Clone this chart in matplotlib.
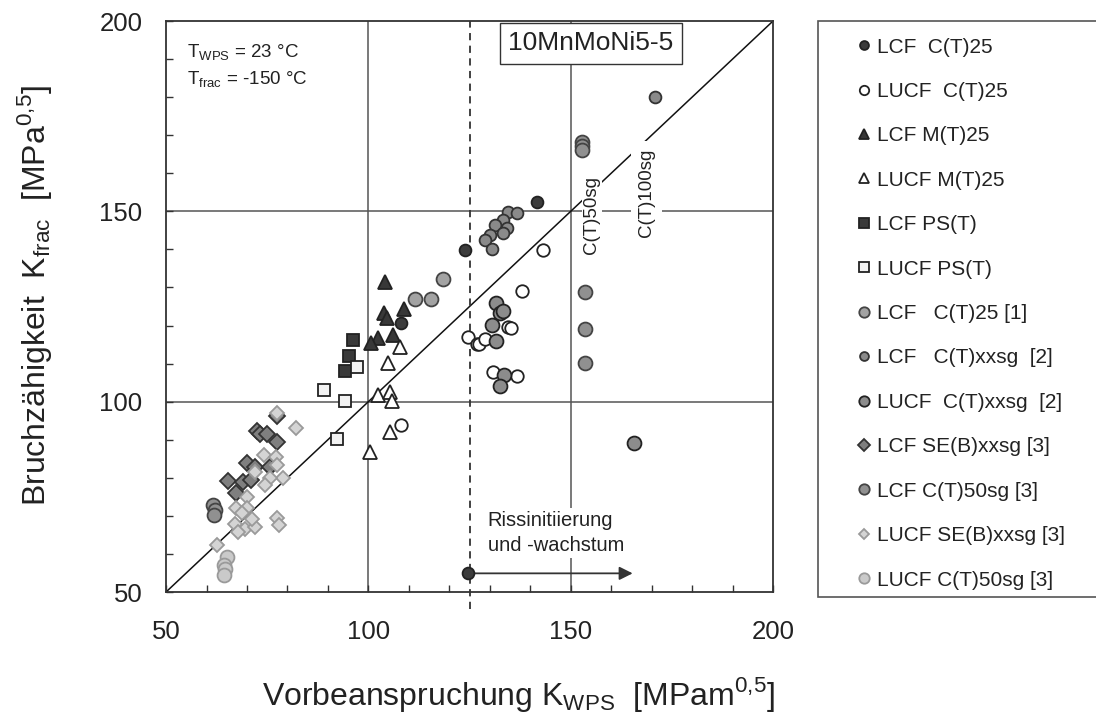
import matplotlib
matplotlib.use('Agg')
import matplotlib.pyplot as plt
from matplotlib.patches import Rectangle

plt.rcParams['font.family'] = ['Liberation Sans', 'DejaVu Sans']
plt.rcParams['mathtext.fontset'] = 'custom'
plt.rcParams['mathtext.rm'] = 'Liberation Sans'

# --- data: (K_WPS, K_frac) per series ---
lcf_ct25_x = [123.9, 141.6, 108.0, 124.7]
lcf_ct25_y = [139.8, 152.5, 120.7, 54.9]

lucf_ct25_x = [143.2, 124.5, 126.8, 108.0, 137.9, 134.6, 135.2, 127.4, 128.8, 130.9, 136.7]
lucf_ct25_y = [139.8, 116.9, 115.1, 93.9, 129.1, 119.5, 119.3, 115.1, 116.4, 107.9, 106.7]

lcf_mt25_x = [104.1, 103.9, 104.5, 108.8, 102.5, 100.6, 106.2]
lcf_mt25_y = [131.5, 123.2, 121.9, 124.3, 116.6, 115.3, 117.5]

lucf_mt25_x = [107.7, 104.9, 102.5, 105.3, 105.9, 105.3, 100.4]
lucf_mt25_y = [114.4, 110.1, 101.7, 102.6, 100.3, 92.1, 86.9]

lcf_pst_x = [96.3, 95.2, 94.3]
lcf_pst_y = [116.2, 112.0, 108.1]

lucf_pst_x = [97.3, 89.1, 94.3, 92.2]
lucf_pst_y = [109.2, 103.1, 100.2, 90.2]

lcf_ct25_1_x = [118.5, 111.5, 115.4]
lcf_ct25_1_y = [132.1, 127.0, 127.0]

lcf_ctxx_2_x = [134.5, 136.7, 133.3, 131.3, 134.2, 130.1, 128.8, 133.3, 130.5, 170.8]
lcf_ctxx_2_y = [149.9, 149.6, 147.7, 146.4, 145.5, 143.8, 142.5, 144.2, 140.0, 180.1]

lucf_ctxx_2_x = [131.5, 132.5, 133.3, 130.5, 131.5, 133.5, 132.5, 165.7]
lucf_ctxx_2_y = [126.0, 123.4, 123.9, 120.1, 116.0, 107.0, 104.1, 89.2]

lcf_seb_3_x = [77.4, 72.4, 73.2, 75.0, 77.5, 70.1, 72.0, 75.7, 65.4, 69.1, 70.9, 67.3]
lcf_seb_3_y = [96.2, 92.3, 91.5, 91.4, 89.5, 83.8, 82.9, 82.8, 79.2, 79.0, 79.4, 75.9]

lcf_ct50_3_x = [152.7, 152.7, 152.7, 153.5, 153.5, 153.5, 61.7, 62.1, 61.9]
lcf_ct50_3_y = [168.3, 167.2, 166.2, 128.9, 119.1, 110.1, 72.9, 71.5, 70.2]

lucf_seb_3_x = [77.5, 82.1, 74.2, 77.2, 77.5, 79.0, 75.7, 74.5, 72.0, 69.9, 67.3, 70.1, 68.7,
                67.1, 69.5, 72.0, 67.9, 77.5, 78.0, 62.5, 71.2]
lucf_seb_3_y = [96.9, 93.0, 86.0, 85.4, 83.4, 79.9, 79.9, 78.1, 81.6, 75.0, 72.0, 72.0, 70.7,
                67.9, 66.5, 67.2, 65.8, 69.4, 67.6, 62.3, 69.1]

lucf_ct50_3_x = [65.0, 64.2, 64.5, 64.2]
lucf_ct50_3_y = [59.3, 57.1, 56.0, 54.5]

labels = ['LCF  C(T)25', 'LUCF  C(T)25', 'LCF M(T)25', 'LUCF M(T)25', 'LCF PS(T)', 'LUCF PS(T)',
          'LCF   C(T)25 [1]', 'LCF   C(T)xxsg  [2]', 'LUCF  C(T)xxsg  [2]', 'LCF SE(B)xxsg [3]',
          'LCF C(T)50sg [3]', 'LUCF SE(B)xxsg [3]', 'LUCF C(T)50sg [3]']

# series: x, y, marker, face, edge, size
series = [
    (lcf_ct25_x, lcf_ct25_y, 'o', '#3c3c3c', '#222222', 8.5),
    (lucf_ct25_x, lucf_ct25_y, 'o', 'white', '#222222', 9),
    (lcf_mt25_x, lcf_mt25_y, '^', '#383838', '#222222', 10),
    (lucf_mt25_x, lucf_mt25_y, '^', 'white', '#222222', 10),
    (lcf_pst_x, lcf_pst_y, 's', '#3a3a3a', '#222222', 9),
    (lucf_pst_x, lucf_pst_y, 's', '#f2f2f2', '#222222', 9),
    (lcf_ct25_1_x, lcf_ct25_1_y, 'o', '#a3a3a3', '#444444', 10),
    (lcf_ctxx_2_x, lcf_ctxx_2_y, 'o', '#8a8a8a', '#333333', 8.5),
    (lucf_ctxx_2_x, lucf_ctxx_2_y, 'o', '#8c8c8c', '#222222', 10),
    (lcf_seb_3_x, lcf_seb_3_y, 'D', '#7f7f7f', '#333333', 8),
    (lcf_ct50_3_x, lcf_ct50_3_y, 'o', '#909090', '#444444', 10),
    (lucf_seb_3_x, lucf_seb_3_y, 'D', '#d4d4d4', '#9a9a9a', 7),
    (lucf_ct50_3_x, lucf_ct50_3_y, 'o', '#cacaca', '#9a9a9a', 10),
]

fig = plt.figure(figsize=(10.96, 7.13), dpi=100)
ax = fig.add_axes([0.1515, 0.1697, 0.5538, 0.8008])

ax.set_xlim(50, 200)
ax.set_ylim(50, 200)
ax.set_xticks([50, 100, 150, 200])
ax.set_yticks([50, 100, 150, 200])
ax.set_xticks(range(50, 201, 10), minor=True)
ax.set_yticks(range(50, 201, 10), minor=True)
ax.tick_params(which='both', direction='in', length=5, width=1, colors='#333333',
               labelsize=18.5, labelcolor='#222222')
ax.tick_params(axis='x', which='major', pad=20)
ax.tick_params(axis='y', which='major', pad=17)
for s in ax.spines.values():
    s.set_linewidth(1.3)
    s.set_color('#333333')

# grid lines
for v in [100, 150]:
    ax.axvline(v, color='#555555', lw=1.1, zorder=1)
    ax.axhline(v, color='#555555', lw=1.1, zorder=1)

# diagonal K_frac = K_WPS
ax.plot([50, 200], [50, 200], color='#111111', lw=1.1, zorder=2)
# dashed line at K_WPS = 125
ax.plot([125, 125], [45.5, 200], color='#333333', lw=1.3, ls=(0, (4, 3)), clip_on=False, zorder=2)

for (x, y, m, fc, ec, ms), lab in zip(series, labels):
    ax.plot(x, y, ls='none', marker=m, mfc=fc, mec=ec, mew=1.3, ms=ms, label=lab, zorder=4)

# arrow for crack initiation and growth
ax.annotate('', xy=(166, 54.9), xytext=(125.5, 54.9),
            arrowprops=dict(arrowstyle='-|>', color='#333333', lw=1.3, mutation_scale=20), zorder=3)
ax.text(129.5, 65.5, 'Rissinitiierung\nund -wachstum', fontsize=14.5, color='#222222',
        ha='left', va='center', linespacing=1.45,
        bbox=dict(facecolor='white', edgecolor='none', pad=2), zorder=3)

ax.text(155.2, 149.0, 'C(T)50sg', rotation=90, fontsize=13.5, color='#222222', ha='center', va='center',
        bbox=dict(facecolor='white', edgecolor='none', pad=1), zorder=3)
ax.text(168.8, 155.0, 'C(T)100sg', rotation=90, fontsize=13.5, color='#222222', ha='center', va='center',
        bbox=dict(facecolor='white', edgecolor='none', pad=5), zorder=3)

ax.text(155, 194.2, '10MnMoNi5-5', fontsize=19, color='#222222', ha='center', va='center',
        bbox=dict(facecolor='white', edgecolor='#333333', lw=1, boxstyle='square,pad=0.32'), zorder=3)
ax.text(55.3, 191.6, 'T$_\\mathregular{WPS}$ = 23 °C', fontsize=13.5, color='#222222', va='center')
ax.text(55.3, 184.5, 'T$_\\mathregular{frac}$ = -150 °C', fontsize=13.5, color='#222222', va='center')

ax.set_xlabel('Vorbeanspruchung K$_\\mathregular{WPS}$  [MPam$^\\mathregular{0{,}5}$]',
              fontsize=23, color='#222222', labelpad=16)
ax.xaxis.set_label_coords(0.58, -0.145)
ax.set_ylabel('Bruchzähigkeit  K$_\\mathregular{frac}$  [MPa$^\\mathregular{0{,}5}$]',
              fontsize=23, color='#222222', labelpad=30)
ax.yaxis.set_label_coords(-0.185, 0.52)

# legend in a box on the right
fig.patches.append(Rectangle((0.746, 0.1627), 0.26, 0.808, transform=fig.transFigure,
                             facecolor='white', edgecolor='#555555', lw=1.2, zorder=0))
handles, labs = ax.get_legend_handles_labels()
fig.legend(handles, labs, loc='upper left', bbox_to_anchor=(0.772, 0.962), frameon=False,
           fontsize=15, labelspacing=1.22, handlelength=0.7, handletextpad=0.3,
           markerscale=0.75, borderpad=0, labelcolor='#222222')

fig.savefig('out.png', dpi=100)
